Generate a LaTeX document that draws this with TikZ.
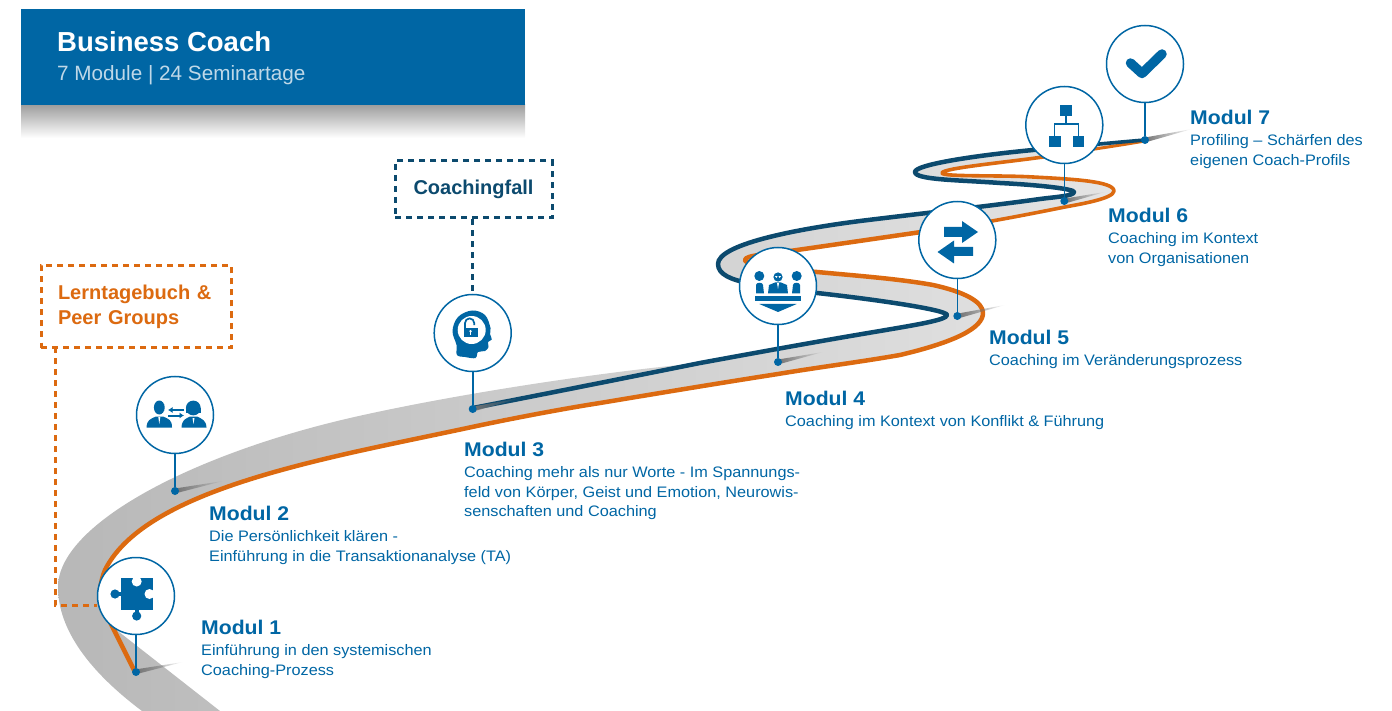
\documentclass[tikz,border=0pt]{standalone}
\usepackage{fontspec}
\setmainfont{Liberation Sans}
\newfontfamily\bodyf[FakeStretch=1.07]{Liberation Sans}
\usetikzlibrary{fadings,arrows.meta}
\definecolor{kblue}{HTML}{0066A4}
\definecolor{korange}{HTML}{DC6A10}
\definecolor{kdark}{HTML}{0C4A6E}
\definecolor{ksub}{HTML}{BFD8E8}
\newcommand{\modhead}[1]{{\fontsize{19.8}{23}\selectfont\bfseries #1}\\[1pt]}
\tikzset{
  modcircle/.style={circle,draw=kblue,line width=1.5pt,fill=white,minimum size=77pt,inner sep=0pt},
  pindot/.style={circle,fill=kblue,minimum size=8pt,inner sep=0pt},
  pinline/.style={draw=kblue,line width=1.6pt},
  modtext/.style={anchor=north west,inner sep=0pt,align=left,text=kblue,font=\bodyf\fontsize{15.2}{19.8}\selectfont},
  dashbox/.style={draw,line width=3pt,dash pattern=on 6pt off 5pt,fill=white,inner sep=0pt,font=\fontsize{20}{25}\selectfont\bfseries},
  dashline/.style={line width=3pt,dash pattern=on 6pt off 5pt},
  pinshadow/.style={fill=black!55,path fading=east},
  darkline/.style={draw=kdark,line width=4.5pt,line cap=round,line join=round},
  orangeline/.style={draw=korange,line cap=round,line join=round},
  icon/.style={fill=kblue,draw=none},
}
% dark upper edge, from the pin of Modul 3 to the pin of Modul 7
\def\dZ{.. controls (560,391) and (640,375) .. (700,363)}
\def\dA{.. controls (760,352) and (820,341) .. (880,331)
  .. controls (915,325) and (947,320) .. (947,315)
  .. controls (947,310) and (880,300) .. (817,293)
  .. controls (770,285) and (718,285) .. (718,264)
  .. controls (718,245) and (790,230) .. (860,221)
  .. controls (925,213) and (990,206) .. (1040,199)
  .. controls (1055,197) and (1074,196) .. (1074,192)
  .. controls (1074,189) and (1040,185) .. (1000,183)
  .. controls (960,180) and (915,180) .. (915,172)
  .. controls (915,165) and (970,156) .. (1033,150)
  .. controls (1045,149) and (1055,148) .. (1064,147)}
\def\dB{.. controls (1090,145) and (1120,142) .. (1145,140)}
% orange lower edge, from the pin of Modul 7 down to the first circle
\def\oA{.. controls (1110,147) and (1080,151) .. (1050,156)}
\def\oB{.. controls (1010,162) and (942,168) .. (942,173)
  .. controls (942,177) and (1000,175) .. (1033,177)
  .. controls (1070,179) and (1114,181) .. (1114,191)
  .. controls (1114,199) and (1075,205) .. (1065,207)
  .. controls (1040,212) and (1000,220) .. (957,227)}
\def\oC{.. controls (920,232) and (860,241) .. (797,250)
  .. controls (770,254) and (745,255) .. (745,260)
  .. controls (745,266) and (790,270) .. (817,272)
  .. controls (860,276) and (900,279) .. (933,285)
  .. controls (965,292) and (983,302) .. (983,313)
  .. controls (983,328) and (955,342) .. (900,355)
  .. controls (860,362) and (820,367) .. (778,374)
  .. controls (720,383) and (660,393) .. (600,403)
  .. controls (555,410) and (500,421) .. (472,427)
  .. controls (430,436) and (390,444) .. (350,453)
  .. controls (240,478) and (135,510) .. (105,570)
  .. controls (100,582) and (99,595) .. (101,604)}
\begin{document}
\begin{tikzpicture}[x=1pt,y=-1pt]
\useasboundingbox (0,0) rectangle (1392,711);
% header
\shade[top color=black!38,bottom color=white] (21,105) rectangle (525,138);
\fill[kblue] (21,9) rectangle (525,105);
\node[anchor=base west,inner sep=0pt,text=white,font=\fontsize{27.5}{32}\selectfont\bfseries] (title) at (57,52) {Business Coach};
\node[anchor=base west,inner sep=0pt,text=ksub,font=\fontsize{20.7}{24}\selectfont] (subtitle) at (57,81) {7 Module | 24 Seminartage};
% road
\shade[left color=black!28,right color=black!10]
  (142,711) .. controls (90,672) and (58,630) .. (58,587)
  .. controls (58,525) and (190,455) .. (350,418)
  .. controls (450,395) and (600,372) .. (700,363)
  \dA \dB -- (1145,141) \oA \oB \oC
  -- (135,672) -- (114,628) -- (220,711) -- cycle;
% road edges
\draw[orangeline,line width=3pt] (1145,141) \oA;
\draw[orangeline,line width=3.6pt] (1050,156) \oB;
\draw[orangeline,line width=4.5pt] (957,227) \oC -- (135,672);
\draw[darkline] (473,408) \dZ \dA;
\draw[darkline,line width=3.6pt] (1064,147) \dB;
% pin shadows
\fill[pinshadow] (135,669.5) -- (183,662) -- (135,674.5) -- cycle;
\fill[pinshadow] (175,488.5) -- (223,481) -- (175,493.5) -- cycle;
\fill[pinshadow] (473,406.5) -- (521,398) -- (473,411.5) -- cycle;
\fill[pinshadow] (778,359.5) -- (823,352) -- (778,364.5) -- cycle;
\fill[pinshadow] (958,313.5) -- (1005,305) -- (958,318.5) -- cycle;
\fill[pinshadow] (1065,198.5) -- (1105,192) -- (1065,203.5) -- cycle;
\fill[pinshadow] (1145,137.5) -- (1192,129) -- (1145,142.5) -- cycle;
% dashed boxes
\node[dashbox,draw=kdark,text=kdark,minimum width=157pt,minimum height=57pt] (coachfall) at (473.5,189.5) {Coachingfall};
\node[dashbox,draw=korange,text=korange,minimum width=190pt,minimum height=82pt,align=left,text width=156pt] (lern) at (136,306.5) {Lerntagebuch \&\\Peer Groups};
\coordinate (lernout) at (55,347);
\coordinate (lernin) at (97,605);
\draw[dashline,korange] (lernout) |- (lernin);
% modules
\foreach \n/\cx/\cy/\py in {1/136/596/672,2/175/415/491,3/472.7/333/409,4/778/286/362,5/957.3/240/316,6/1064.3/125/201,7/1145/64/140}{
  \node[pindot] (p\n) at (\cx,\py) {};
  \node[modcircle] (m\n) at (\cx,\cy) {};
  \draw[pinline] (m\n) -- (p\n);
}
\draw[dashline,kdark] (m3.north |- coachfall.south) -- (m3.north);
% icon 1: puzzle
\begin{scope}
\fill[icon] (120.7,578.3) rectangle (152.7,610);
\fill[icon] (115,594) circle (4.6);
\fill[icon] (115,592) rectangle (122,596);
\fill[icon] (136.7,616) circle (4.6);
\fill[icon] (134.7,609) rectangle (138.7,616);
\fill[white] (136.7,581.5) circle (5);
\fill[white] (134.7,577) rectangle (138.7,581);
\fill[white] (149.5,594) circle (5);
\fill[white] (149.5,592) rectangle (154,596);
\end{scope}
% icon 2: people and arrows
\begin{scope}
\fill[icon] (159.3,407.5) ellipse (5.4 and 7);
\fill[icon] (146.5,427.5) .. controls (147,420) and (150,419) .. (156,416.5) -- (163,416.5) .. controls (169,419) and (172,420) .. (172,427.5) -- cycle;
\fill[white] (158.3,417) -- (160.3,417) -- (159.3,424) -- cycle;
\fill[icon] (193.3,408) ellipse (7.4 and 7.4);
\fill[icon] (186,408) rectangle (201,413);
\fill[icon] (181.5,427.5) .. controls (182,420) and (185,419) .. (190,416.5) -- (197,416.5) .. controls (202,419) and (206,420) .. (206.5,427.5) -- cycle;
\fill[white] (192.5,418) -- (194.5,418) -- (193.5,424) -- cycle;
\draw[kblue,line width=2pt,-{Latex[length=4.5pt,width=6pt]}] (184,410) -- (168,410);
\draw[kblue,line width=2pt,-{Latex[length=4.5pt,width=6pt]}] (168,415.5) -- (184,415.5);
\end{scope}
% icon 3: head with open lock
\begin{scope}
\fill[icon] plot[smooth cycle,tension=.6] coordinates {(456.5,345) (452.5,331) (458,317) (472,310.5) (485,315) (490.5,328) (490,334) (491.8,339.5) (488,342) (488.5,347) (485,351) (478,352) (475.5,358) (465,357) (457,355)};
\fill[white] (471.7,330) circle (14);
\fill[icon] (463.5,328) rectangle (477.5,336.8);
\draw[kblue,line width=1.7pt] (465,328) -- (465,323) arc (180:360:4.6) -- (474.2,325);
\fill[white] (470.5,331.2) circle (1.3);
\fill[white] (469.9,331.5) rectangle (471.1,334.5);
\end{scope}
% icon 4: meeting
\begin{scope}
\fill[icon] (759.3,276) circle (5);
\fill[icon] (796.7,276) circle (5);
\fill[icon] (778,277) circle (4.6);
\fill[white] (775,276.2) -- (777.5,276.2) -- (776.5,278) -- cycle;
\fill[white] (778.5,276.2) -- (781,276.2) -- (779.5,278) -- cycle;
\fill[icon] (756,293.5) -- (756,285) .. controls (756,282) and (763,282) .. (763,285) -- (764,293.5) -- cycle;
\fill[icon] (792,293.5) -- (793,285) .. controls (793,282) and (800,282) .. (800,285) -- (800,293.5) -- cycle;
\fill[icon] (768,293.5) -- (769,285) -- (775,282.5) -- (781,282.5) -- (787,285) -- (788,293.5) -- cycle;
\fill[white] (777,283) -- (779,283) -- (778,289) -- cycle;
\fill[icon] (755,296) rectangle (801,301);
\fill[icon] (759.3,304) -- (796.7,304) -- (778,312) -- cycle;
\end{scope}
% icon 5: arrows
\begin{scope}
\fill[icon] (944,227) -- (962,227) -- (962,221) -- (978,232) -- (962,243) -- (962,237) -- (944,237) -- cycle;
\fill[icon] (973,247) -- (954,247) -- (954,240.5) -- (937.5,252) -- (954,263.5) -- (954,256) -- (973,256) -- cycle;
\end{scope}
% icon 6: org chart
\begin{scope}
\fill[icon] (1060,105) rectangle (1072,116);
\fill[icon] (1049,135.7) rectangle (1060.5,146.7);
\fill[icon] (1072.7,135.7) rectangle (1084,146.7);
\draw[kblue,line width=1.5pt] (1066,116) -- (1066,124);
\draw[kblue,line width=1.5pt] (1054.7,136) -- (1054.7,124) -- (1078.3,124) -- (1078.3,136);
\end{scope}
% icon 7: check
\draw[kblue,line width=9.5pt,line cap=round,line join=round] (1130.5,63) -- (1142,73.5) -- (1162,54);
% labels
\node[modtext] (t1) at (201,620) {\modhead{Modul 1}Einführung in den systemischen\\Coaching-Prozess};
\node[modtext] (t2) at (209,506) {\modhead{Modul 2}Die Persönlichkeit klären -\\Einführung in die Transaktionanalyse (TA)};
\node[modtext] (t3) at (464,442) {\modhead{Modul 3}Coaching mehr als nur Worte - Im Spannungs-\\feld von Körper, Geist und Emotion, Neurowis-\\senschaften und Coaching};
\node[modtext] (t4) at (785,391) {\modhead{Modul 4}Coaching im Kontext von Konflikt \& Führung};
\node[modtext] (t5) at (989,330) {\modhead{Modul 5}Coaching im Veränderungsprozess};
\node[modtext] (t6) at (1108,208) {\modhead{Modul 6}Coaching im Kontext\\von Organisationen};
\node[modtext] (t7) at (1190,110) {\modhead{Modul 7}Profiling – Schärfen des\\eigenen Coach-Profils};
\end{tikzpicture}
\end{document}
